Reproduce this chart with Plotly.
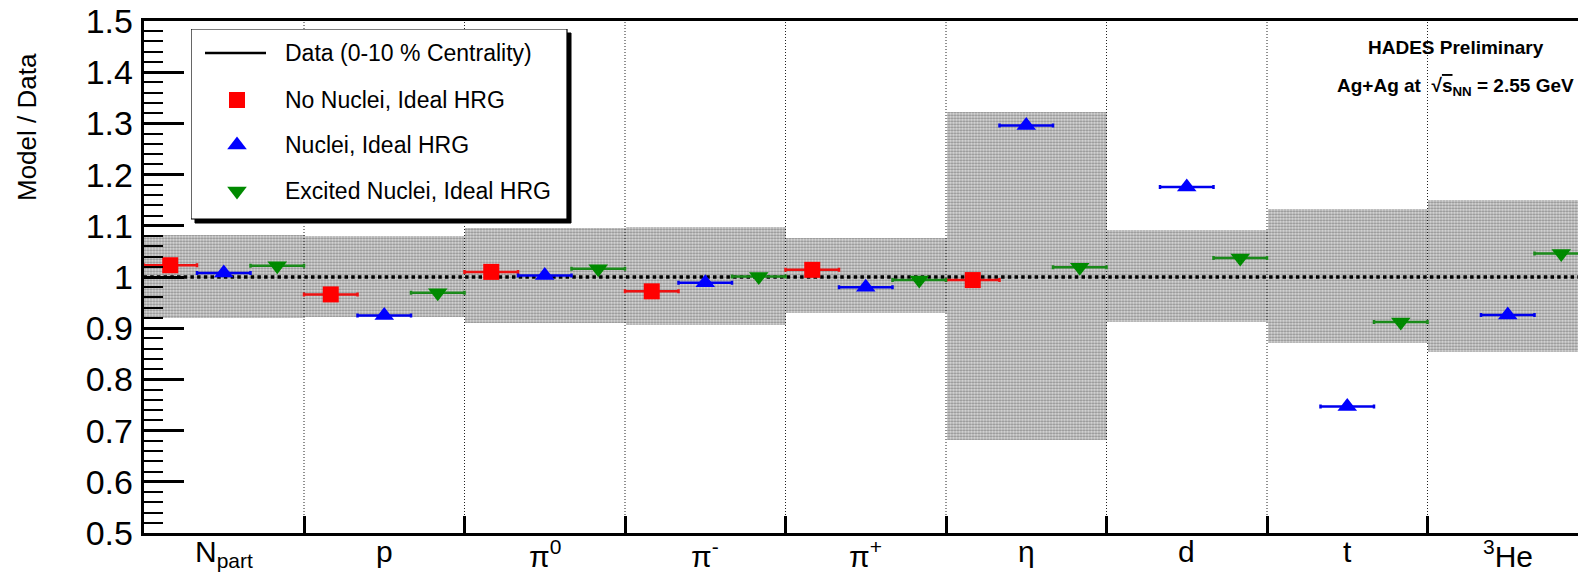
import plotly.graph_objects as go

W, H = 1578, 573
FONT = "Liberation Sans, Arial, Helvetica, sans-serif"

# ---- data -------------------------------------------------------------
categories = ["N<sub>part</sub>", "p", "π<sup>0</sup>", "π<sup>-</sup>", "π<sup>+</sup>",
              "η", "d", "t", "<sup>3</sup>He"]
data_low = [0.919, 0.922, 0.910, 0.906, 0.929, 0.682, 0.912, 0.872, 0.853]
data_high = [1.082, 1.080, 1.095, 1.097, 1.076, 1.323, 1.091, 1.132, 1.150]
no_nuclei = [1.023, 0.966, 1.010, 0.972, 1.014, 0.994, None, None, None]
nuclei = [1.008, 0.925, 1.003, 0.989, 0.980, 1.296, 1.176, 0.747, 0.926]
excited = [1.022, 0.969, 1.016, 1.001, 0.994, 1.019, 1.037, 0.912, 1.046]
y_ticks = [0.5, 0.6, 0.7, 0.8, 0.9, 1.0, 1.1, 1.2, 1.3, 1.4, 1.5]
y_tick_labels = ["0.5", "0.6", "0.7", "0.8", "0.9", "1", "1.1", "1.2", "1.3", "1.4", "1.5"]

n = len(categories)
centers = [i + 0.5 for i in range(n)]
edges = list(range(n + 1))


def px(x):
    return x / W


def py(y):
    return 1 - y / H


fig = go.Figure()

# data uncertainty bands
fig.add_trace(go.Bar(
    x=centers, y=[h - l for l, h in zip(data_low, data_high)], base=data_low,
    width=1.0, showlegend=False, hoverinfo="skip",
    marker=dict(color="#c6c6c6", line=dict(width=0),
                pattern=dict(shape=".", size=3, solidity=0.45,
                             fgcolor="#8c8c8c", bgcolor="#dcdcdc", fillmode="replace")),
))

# dotted separators between particle bins
gx, gy = [], []
for e in edges[1:-1]:
    gx += [e, e, None]
    gy += [y_ticks[0], y_ticks[-1], None]
fig.add_trace(go.Scatter(x=gx, y=gy, mode="lines", showlegend=False, hoverinfo="skip",
                         line=dict(color="#222222", width=1, dash="1px,2px")))

# data reference line
fig.add_trace(go.Scatter(x=[edges[0], edges[-1]], y=[1.0, 1.0], mode="lines",
                         showlegend=False, hoverinfo="skip",
                         line=dict(color="black", width=3.5, dash="3.5px,3.2px")))

series = [
    (no_nuclei, 1 / 6, "square", 16, "#ff0000", "#ee1111"),
    (nuclei, 1 / 2, "triangle-up", 17, "#0000ff", "#0000ee"),
    (excited, 5 / 6, "triangle-down", 17, "#008a00", "#1a8a1a"),
]
for vals, off, sym, size, col, ecol in series:
    fig.add_trace(go.Scatter(
        x=[i + off for i in range(n)], y=vals, mode="markers", showlegend=False,
        marker=dict(symbol=sym, size=size, color=col, line=dict(width=0)),
        error_x=dict(type="constant", value=1 / 6, color=ecol, thickness=2.5, width=2),
    ))

# ---- legend panel (own subplot, pixel units) -------------------------
LX0, LY0 = 191, 29
LW, LH = 376, 190
fig.add_trace(go.Scatter(x=[4, LW + 4, LW + 4, 4, 4], y=[4, 4, LH + 4, LH + 4, 4],
                         xaxis="x2", yaxis="y2", mode="lines", fill="toself",
                         fillcolor="black", line=dict(color="black", width=1),
                         showlegend=False, hoverinfo="skip"))
fig.add_trace(go.Scatter(x=[0, LW, LW, 0, 0], y=[0, 0, LH, LH, 0],
                         xaxis="x2", yaxis="y2", mode="lines", fill="toself",
                         fillcolor="white", line=dict(color="black", width=1.2),
                         showlegend=False, hoverinfo="skip"))
rows = [24, 71, 116, 162]
fig.add_trace(go.Scatter(x=[14, 75], y=[rows[0], rows[0]], xaxis="x2", yaxis="y2",
                         mode="lines", line=dict(color="black", width=2.5),
                         showlegend=False, hoverinfo="skip"))
for (vals, off, sym, size, col, ecol), r in zip(series, rows[1:]):
    fig.add_trace(go.Scatter(x=[46], y=[r], xaxis="x2", yaxis="y2", mode="markers",
                             marker=dict(symbol=sym, size=size, color=col, line=dict(width=0)),
                             showlegend=False, hoverinfo="skip"))

legend_text = ["Data (0-10 % Centrality)", "No Nuclei, Ideal HRG",
               "Nuclei, Ideal HRG", "Excited Nuclei, Ideal HRG"]
annotations = []
for t, r in zip(legend_text, rows):
    annotations.append(dict(x=92, y=r, xref="x2", yref="y2", text=t, showarrow=False,
                            xanchor="left", yanchor="middle",
                            font=dict(family=FONT, size=23, color="black")))

# category labels under each bin
for c, lab in zip(centers, categories):
    annotations.append(dict(x=c, y=py(533), xref="x", yref="paper", text=lab,
                            showarrow=False, xanchor="center", yanchor="top",
                            font=dict(family=FONT, size=30, color="black")))

# axis title and header texts
annotations += [
    dict(x=px(27), y=py(127), xref="paper", yref="paper", text="Model / Data",
         textangle=-90, showarrow=False, xanchor="center", yanchor="middle",
         font=dict(family=FONT, size=26, color="black")),
    dict(x=px(1456), y=py(47), xref="paper", yref="paper", text="<b>HADES Preliminary</b>",
         showarrow=False, xanchor="center", yanchor="middle",
         font=dict(family=FONT, size=19, color="black")),
    dict(x=px(1455), y=py(87), xref="paper", yref="paper",
         text="<b>Ag+Ag at  √<span style='text-decoration:overline'>s</span><sub>NN</sub> = 2.55 GeV</b>",
         showarrow=False, xanchor="center", yanchor="middle",
         font=dict(family=FONT, size=19, color="black")),
]

x_left, x_bottom, x_top = 143.5, 533, 21
bin_px = 160.5
fig.update_layout(
    width=W, height=H, margin=dict(l=0, r=0, t=0, b=0),
    paper_bgcolor="white", plot_bgcolor="white",
    bargap=0, showlegend=False,
    annotations=annotations,
    xaxis=dict(domain=[px(x_left), 1], range=[0, (W - x_left) / bin_px],
               tickmode="array", tickvals=edges, showticklabels=False,
               ticks="inside", ticklen=17, tickwidth=2.5, tickcolor="black",
               showgrid=False, zeroline=False, showline=True, linecolor="black",
               linewidth=2.5, mirror=True, automargin=False),
    yaxis=dict(domain=[py(x_bottom), py(x_top)], range=[0.5, 1.5],
               tickmode="array", tickvals=y_ticks, ticktext=y_tick_labels,
               ticks="inside", ticklen=41, tickwidth=2.5, tickcolor="black",
               tickfont=dict(family=FONT, size=34, color="black"),
               ticklabelstandoff=1,
               minor=dict(ticks="inside", ticklen=20, tickwidth=2, tickcolor="black",
                          tickmode="linear", tick0=0.5, dtick=0.02, showgrid=False),
               showgrid=False, zeroline=False, showline=True, linecolor="black",
               linewidth=2.5, automargin=False),
    xaxis2=dict(domain=[px(LX0), px(LX0 + LW + 6)], range=[0, LW + 6], visible=False,
                fixedrange=True),
    yaxis2=dict(domain=[py(LY0 + LH + 6), py(LY0)], range=[LH + 6, 0], visible=False,
                fixedrange=True),
)

fig.write_html("out.html")
